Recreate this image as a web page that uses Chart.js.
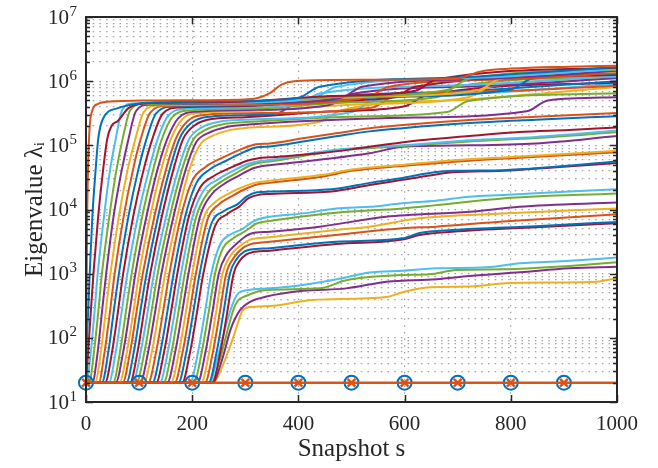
<!DOCTYPE html>
<html>
<head>
<meta charset="utf-8">
<script src="https://cdn.jsdelivr.net/npm/chart.js@4/dist/chart.umd.min.js"></script>
<style>
  html, body { margin: 0; padding: 0; background: #ffffff; }
  #plot { display: block; }
</style>
</head>
<body>
<canvas id="plot" width="658" height="468" style="width:658px;height:468px"></canvas>
<script>
// Eigenvalue history: each series is a list of [snapshot, eigenvalue] knots.
const lambda01 = [[0,20],[100,20],[200,20],[300,20],[400,20],[500,20],[600,20],[700,20],[800,20],[900,20],[1000,20]];
const lambda02 = [[0,20],[100,20],[200,20],[300,20],[400,20],[500,20],[600,20],[700,20],[800,20],[900,20],[1000,20]];

const lambda03 = [[0,20],[240,20],[258,38],[274,85],[285,160],[294,260],[305,300],[346,313],[427,390],[566,432],[596,513],[647,615],[722,630],[798,716],[961,750],[1000,850]];
const lambda04 = [[0,20],[238,20],[256,45],[273,140],[290,270],[308,360],[340,440],[408,540],[490,590],[566,750],[660,820],[722,920],[817,1050],[911,1210],[1000,1280]];
const lambda05 = [[0,20],[236,20],[252,45],[266,125],[278,280],[286,380],[300,445],[340,555],[440,590],[490,790],[596,955],[647,980],[697,1140],[785,1170],[911,1320],[1000,1500]];
const lambda06 = [[0,20],[232,20],[248,50],[262,140],[274,300],[283,450],[292,530],[346,590],[408,665],[472,817],[534,1040],[596,1110],[660,1210],[754,1260],[817,1450],[911,1590],[1000,1780]];

const lambda07 = [[0,20],[238,20],[253,60],[266,250],[278,1000],[290,1600],[302,2000],[313,2150],[346,2280],[471,2900],[596,3400],[628,4000],[690,4500],[847,5300],[1000,6100]];
const lambda08 = [[0,20],[231,20],[246,60],[259,250],[271,1000],[284,1700],[298,2200],[310,2380],[346,2500],[471,3150],[596,3550],[628,4300],[690,4800],[847,5500],[1000,6400]];
const lambda09 = [[0,20],[224,20],[239,60],[252,250],[264,1000],[279,1800],[295,2500],[306,2800],[315,2950],[346,3150],[471,4000],[596,5100],[659,5400],[785,6500],[1000,8400]];
const lambda10 = [[0,20],[217,20],[232,60],[245,250],[257,1000],[272,1900],[290,2700],[303,3200],[312,3450],[346,3700],[471,4800],[534,5400],[628,7300],[785,8700],[1000,10400]];
const lambda11 = [[0,20],[210,20],[225,60],[238,250],[250,1000],[265,2000],[283,2900],[300,3800],[310,4200],[346,4500],[440,5400],[565,7700],[722,9200],[816,11000],[1000,12800]];
const lambda12 = [[0,20],[203,20],[218,60],[231,250],[243,1000],[258,2500],[276,3500],[298,4500],[312,5400],[320,6000],[346,6600],[471,8900],[596,10400],[659,11700],[785,14900],[1000,17800]];
const lambda13 = [[0,20],[196,20],[211,60],[224,250],[236,1000],[252,2800],[270,4000],[295,5000],[312,6300],[323,7000],[346,7700],[409,8700],[471,10400],[534,11000],[596,12500],[659,13700],[722,15800],[785,16800],[847,17900],[1000,20700]];

const lambda14 = [[0,20],[181,20],[196,60],[209,250],[221,1000],[243,5500],[266,8500],[288,11000],[306,15000],[326,17000],[346,17500],[471,19500],[534,24000],[596,29000],[647,34000],[691,38000],[785,40000],[879,45000],[1000,53000]];
const lambda15 = [[0,20],[174,20],[189,60],[202,250],[214,1000],[236,6000],[260,9500],[285,12000],[303,16000],[322,18500],[346,19000],[471,21000],[534,26000],[596,31000],[647,37000],[691,40000],[785,41000],[879,46000],[1000,56000]];
const lambda16 = [[0,20],[167,20],[182,60],[195,250],[207,1000],[229,7000],[250,12000],[274,16000],[298,20500],[322,24500],[346,26000],[450,33000],[500,40000],[600,48000],[700,56000],[800,63000],[1000,78000]];
const lambda17 = [[0,20],[160,20],[175,60],[188,250],[200,1000],[222,7500],[243,13000],[268,17500],[293,22000],[318,26000],[346,28000],[450,35000],[500,42000],[600,50000],[700,59000],[800,66000],[1000,82000]];
const lambda18 = [[0,20],[153,20],[168,60],[181,250],[193,1000],[215,7900],[236,17000],[260,25000],[289,34000],[315,44000],[332,47500],[346,49000],[534,75000],[596,95000],[722,100000],[847,107000],[1000,140000]];
const lambda19 = [[0,20],[146,20],[161,60],[174,250],[186,1000],[208,7900],[229,18000],[254,27000],[283,37000],[310,49000],[330,54000],[346,56000],[471,82000],[596,98000],[722,115000],[847,130000],[1000,160000]];
const lambda20 = [[0,20],[139,20],[154,60],[167,250],[179,1000],[201,7900],[222,20000],[247,29000],[277,40000],[307,52000],[328,57000],[346,59000],[471,85000],[596,100000],[722,120000],[847,135000],[1000,170000]];
const lambda21 = [[0,20],[132,20],[147,60],[160,250],[172,1000],[194,7900],[215,22000],[240,33000],[270,44000],[302,57000],[325,63000],[346,65000],[440,75000],[534,95000],[628,120000],[722,140000],[816,162000],[910,174000],[1000,190000]];
const lambda22 = [[0,20],[125,20],[140,60],[153,250],[165,1000],[187,7900],[208,26000],[233,42000],[265,58000],[298,79000],[322,93000],[346,96000],[409,115000],[471,138000],[534,165000],[596,185000],[722,222000],[847,250000],[1000,285000]];
const lambda23 = [[0,20],[117,20],[132,60],[145,250],[157,1000],[179,7900],[200,28000],[225,46000],[260,66000],[295,89000],[320,104000],[346,107000],[409,129000],[471,154000],[534,184000],[596,207000],[722,248000],[847,280000],[1000,320000]];

const lambda24 = [[0,20],[109,20],[124,60],[137,250],[149,1000],[172,7900],[194,40000],[214,100000],[237,139000],[274,175000],[300,186000],[440,233000],[480,350000],[720,520000],[1000,810000]];
const lambda25 = [[0,20],[102,20],[117,60],[130,250],[142,1000],[165,7900],[187,40000],[207,110000],[230,155000],[267,195000],[300,210000],[560,265000],[830,340000],[870,500000],[1000,560000]];
const lambda26 = [[0,20],[95,20],[110,60],[123,250],[135,1000],[158,7900],[180,40000],[200,115000],[223,171000],[260,215000],[300,230000],[500,280000],[680,330000],[720,490000],[1000,650000]];
const lambda27 = [[0,20],[88,20],[103,60],[116,250],[128,1000],[151,7900],[173,40000],[193,120000],[216,187000],[253,235000],[300,250000],[500,330000],[540,490000],[760,660000],[1000,910000]];
const lambda28 = [[0,20],[83,20],[97,60],[109,250],[121,1000],[143,7900],[164,40000],[183,126000],[205,206000],[241,260000],[300,275000],[450,334000],[600,405000],[640,600000],[1000,950000]];
const lambda29 = [[0,20],[76,20],[90,60],[102,250],[114,1000],[136,7900],[157,40000],[176,126000],[198,222000],[234,280000],[300,295000],[360,316000],[400,470000],[700,690000],[1000,1000000]];
const lambda30 = [[0,20],[69,20],[83,60],[95,250],[107,1000],[129,7900],[150,40000],[169,126000],[191,238000],[227,300000],[300,316000],[540,390000],[580,580000],[800,710000],[1000,850000]];
const lambda31 = [[0,20],[63,20],[77,60],[89,250],[100,1000],[121,7900],[141,40000],[160,126000],[181,254000],[215,320000],[300,340000],[500,430000],[720,560000],[760,820000],[1000,1100000]];
const lambda32 = [[0,20],[56,20],[70,60],[82,250],[93,1000],[114,7900],[134,40000],[153,126000],[174,266000],[208,335000],[300,355000],[460,430000],[500,630000],[750,840000],[1000,1120000]];
const lambda33 = [[0,20],[51,20],[64,60],[75,250],[86,1000],[106,7900],[126,40000],[143,126000],[163,278000],[196,350000],[300,370000],[500,470000],[660,560000],[700,830000],[1000,1170000]];
const lambda34 = [[0,20],[43,20],[56,60],[67,250],[78,1000],[98,7900],[118,40000],[135,126000],[155,292000],[188,370000],[300,390000],[400,435000],[440,640000],[700,860000],[1000,1200000]];
const lambda35 = [[0,20],[36,20],[49,60],[60,250],[70,1000],[89,7900],[108,40000],[125,126000],[144,308000],[175,390000],[300,410000],[450,490000],[580,560000],[620,820000],[1000,1260000]];
const lambda36 = [[0,20],[30,20],[42,60],[52,250],[62,1000],[80,7900],[98,40000],[114,126000],[132,316000],[162,400000],[300,420000],[550,560000],[800,740000],[840,1100000],[1000,1320000]];
const lambda37 = [[0,20],[24,20],[35,60],[45,250],[54,1000],[71,7900],[88,40000],[103,126000],[121,324000],[149,410000],[300,430000],[530,560000],[570,820000],[800,1070000],[1000,1350000]];
const lambda38 = [[0,20],[17,20],[28,60],[37,250],[46,1000],[62,7900],[78,40000],[93,126000],[109,332000],[136,420000],[300,440000],[520,566000],[740,730000],[780,1090000],[1000,1410000]];
const lambda39 = [[0,20],[12,20],[22,60],[30,250],[38,1000],[52,7900],[67,40000],[80,126000],[94,340000],[118,430000],[300,450000],[480,550000],[520,820000],[760,1090000],[1000,1450000]];
const lambda40 = [[0,20],[6,20],[15,60],[23,250],[30,1000],[44,7900],[57,40000],[69,126000],[83,348000],[105,440000],[300,460000],[500,580000],[680,730000],[720,1080000],[1000,1510000]];
const lambda41 = [[0,20],[1,20],[9,60],[16,250],[22,1000],[34,7900],[45,40000],[56,126000],[68,355000],[87,450000],[300,470000],[430,550000],[470,810000],[750,1140000],[1000,1550000]];
const lambda42 = [[0,20],[4,60],[9,250],[14,1000],[23,7900],[32,40000],[40,126000],[48,200000],[60,240000],[80,380000],[110,450000],[150,460000],[300,480000],[460,585000],[620,710000],[660,1060000],[1000,1620000]];
const lambda43 = [[0,20],[1,60],[4,250],[7,1000],[12,7900],[18,40000],[23,126000],[32,260000],[60,380000],[100,450000],[150,470000],[300,490000],[400,550000],[440,820000],[700,1140000],[1000,1660000]];
const lambda44 = [[0,20],[1,300],[2,5000],[4,50000],[7,200000],[12,350000],[22,440000],[45,480000],[120,500000],[300,520000],[322,540000],[346,650000],[368,880000],[392,1000000],[530,1050000],[700,1100000],[722,1250000],[750,1450000],[800,1570000],[910,1680000],[1000,1740000]];

// Eigenvalues 3..44, in index order
const growingEigenvalues = [
  lambda03, lambda04, lambda05, lambda06, lambda07, lambda08, lambda09, lambda10,
  lambda11, lambda12, lambda13, lambda14, lambda15, lambda16, lambda17, lambda18,
  lambda19, lambda20, lambda21, lambda22, lambda23, lambda24, lambda25, lambda26,
  lambda27, lambda28, lambda29, lambda30, lambda31, lambda32, lambda33, lambda34,
  lambda35, lambda36, lambda37, lambda38, lambda39, lambda40, lambda41, lambda42,
  lambda43, lambda44
];

const snapshotTicks = [0, 200, 400, 600, 800, 1000];
const lastMarkerSnapshot = 900;
const decadeExponents = [1, 2, 3, 4, 5, 6, 7];

// MATLAB default line colour order
const LINE_COLORS = ['#0072BD', '#D95319', '#EDB120', '#7E2F8E', '#77AC30', '#4DBEEE', '#A2142F'];
const AXIS_COLOR = '#262626';
const SERIF = "'Liberation Serif', 'Times New Roman', 'DejaVu Serif', serif";

const toPoints = arr => arr.map(([s, v]) => ({ x: s, y: v }));
const colorFor = idx => LINE_COLORS[(idx - 1) % LINE_COLORS.length];

const datasets = [];
growingEigenvalues.forEach((arr, k) => {
  const idx = k + 3;
  datasets.push({
    label: 'lambda ' + idx,
    data: toPoints(arr),
    borderColor: colorFor(idx),
    borderWidth: 2,
    pointRadius: 0,
    fill: false,
    cubicInterpolationMode: 'monotone',
    order: -idx
  });
});

// the two constant eigenvalues, with markers every 100 snapshots
datasets.push({
  label: 'lambda 1',
  data: toPoints(lambda01),
  borderColor: colorFor(1),
  borderWidth: 2,
  pointStyle: 'circle',
  pointRadius: ctx => (ctx.raw && ctx.raw.x <= lastMarkerSnapshot) ? 7 : 0,
  pointBorderWidth: 2,
  pointBorderColor: colorFor(1),
  pointBackgroundColor: 'rgba(0,0,0,0)',
  clip: false,
  order: -1000
});
datasets.push({
  label: 'lambda 2',
  data: toPoints(lambda02),
  borderColor: colorFor(2),
  borderWidth: 2,
  pointStyle: 'crossRot',
  pointRadius: ctx => (ctx.raw && ctx.raw.x <= lastMarkerSnapshot) ? 5.5 : 0,
  pointBorderWidth: 2.5,
  pointBorderColor: colorFor(2),
  pointBackgroundColor: colorFor(2),
  clip: false,
  order: -1001
});

// y tick positions: 1..9 x 10^k over the axis range
const yTickValues = [];
for (let e = 1; e < 7; e++) {
  for (let m = 1; m < 10; m++) yTickValues.push(m * Math.pow(10, e));
}
yTickValues.push(1e7);
const isDecade = v => Math.abs(Math.log10(v) - Math.round(Math.log10(v))) < 1e-9;

// MATLAB-style frame: box, inward ticks and 10^n labels
const axesFrame = {
  id: 'axesFrame',
  afterDraw(chart) {
    const { ctx, chartArea: a, scales: { x, y } } = chart;
    ctx.save();
    ctx.strokeStyle = AXIS_COLOR;
    ctx.lineWidth = 1.5;
    ctx.beginPath();
    snapshotTicks.forEach(s => {
      const px = Math.round(x.getPixelForValue(s)) + 0.5;
      ctx.moveTo(px, a.bottom); ctx.lineTo(px, a.bottom - 7);
      ctx.moveTo(px, a.top); ctx.lineTo(px, a.top + 7);
    });
    yTickValues.forEach(v => {
      const py = Math.round(y.getPixelForValue(v)) + 0.5;
      const len = isDecade(v) ? 7 : 4;
      ctx.moveTo(a.left, py); ctx.lineTo(a.left + len, py);
      ctx.moveTo(a.right, py); ctx.lineTo(a.right - len, py);
    });
    ctx.stroke();
    ctx.lineWidth = 2;
    ctx.strokeRect(a.left, a.top, a.right - a.left, a.bottom - a.top);

    // decade labels 10^n
    ctx.fillStyle = AXIS_COLOR;
    ctx.textBaseline = 'alphabetic';
    const xr = a.left - 9;
    decadeExponents.forEach(e => {
      const py = y.getPixelForValue(Math.pow(10, e));
      const exp = String(e);
      ctx.font = '15px ' + SERIF;
      const ew = ctx.measureText(exp).width;
      ctx.textAlign = 'left';
      ctx.fillText(exp, xr - ew, py - 1.5);
      ctx.font = '21px ' + SERIF;
      ctx.textAlign = 'right';
      ctx.fillText('10', xr - ew - 0.5, py + 6.5);
    });
    ctx.restore();
  }
};

new Chart(document.getElementById('plot'), {
  type: 'line',
  data: { datasets },
  plugins: [axesFrame],
  options: {
    responsive: false,
    devicePixelRatio: 1,
    animation: false,
    events: [],
    layout: { padding: { left: 0, right: 41, top: 17, bottom: 0 } },
    plugins: { legend: { display: false }, tooltip: { enabled: false } },
    scales: {
      x: {
        type: 'linear',
        min: 0,
        max: 1000,
        afterFit: s => { s.height = 66; },
        afterBuildTicks: s => { s.ticks = snapshotTicks.map(v => ({ value: v })); },
        ticks: {
          autoSkip: false,
          maxRotation: 0,
          padding: 10,
          color: AXIS_COLOR,
          font: { family: SERIF, size: 21 },
          callback: v => String(v)
        },
        grid: { drawTicks: false, color: 'rgba(70,70,70,0.5)', lineWidth: 1.2 },
        border: { display: false, dash: [1.5, 5.2] },
        title: {
          display: true,
          text: 'Snapshot s',
          color: AXIS_COLOR,
          font: { family: SERIF, size: 25 },
          padding: { top: 0, bottom: 4 }
        }
      },
      y: {
        type: 'logarithmic',
        min: 10,
        max: 1e7,
        afterFit: s => { s.width = 86; },
        afterBuildTicks: s => { s.ticks = yTickValues.map(v => ({ value: v })); },
        ticks: { display: false, autoSkip: false },
        grid: { drawTicks: false, color: 'rgba(70,70,70,0.5)', lineWidth: 1.2 },
        border: { display: false, dash: [1.5, 5.2] },
        title: {
          display: true,
          text: 'Eigenvalue λᵢ',
          color: AXIS_COLOR,
          font: { family: SERIF, size: 25 },
          padding: { top: 20, bottom: 0 }
        }
      }
    }
  }
});
</script>
</body>
</html>
